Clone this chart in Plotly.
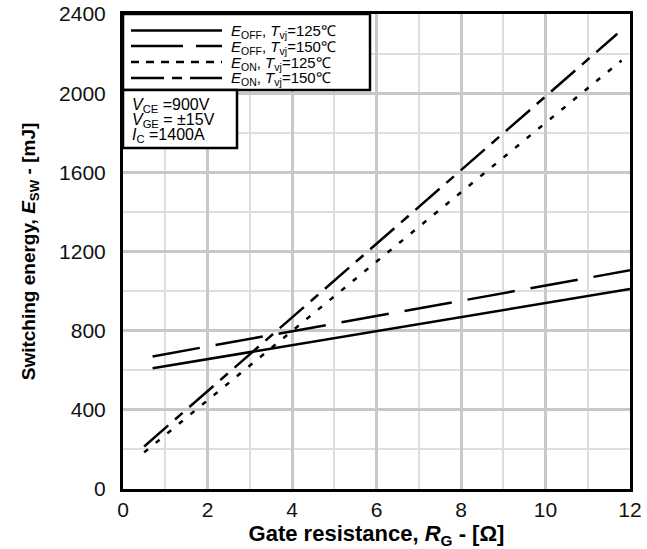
import plotly.graph_objects as go

# Data
eoff125_x = [0.7, 12.0]
eoff125_y = [610, 1010]
eoff150_x = [0.7, 12.0]
eoff150_y = [670, 1105]
eon125_x = [0.5, 11.8]
eon125_y = [185, 2165]
eon150_x = [0.5, 11.7]
eon150_y = [215, 2300]

x_ticks = [0, 2, 4, 6, 8, 10, 12]
y_ticks = [0, 400, 800, 1200, 1600, 2000, 2400]

series_names = [
    "<i>E</i><sub>OFF</sub>, <i>T</i><sub>vj</sub>=125℃",
    "<i>E</i><sub>OFF</sub>, <i>T</i><sub>vj</sub>=150℃",
    "<i>E</i><sub>ON</sub>, <i>T</i><sub>vj</sub>=125℃",
    "<i>E</i><sub>ON</sub>, <i>T</i><sub>vj</sub>=150℃",
]
series_x = [eoff125_x, eoff150_x, eon125_x, eon150_x]
series_y = [eoff125_y, eoff150_y, eon125_y, eon150_y]
plot_dash = ["solid", "48px,16px", "5px,10px", "32px,9px,10px,9px"]
legend_dash = ["solid", "52px,13px", "8px,7px", "33px,8px,10px,8px"]

FONT = "Liberation Sans, Arial"

fig = go.Figure()
for name, xs, ys, dash in zip(series_names, series_x, series_y, plot_dash):
    fig.add_trace(go.Scatter(x=xs, y=ys, mode="lines", name=name,
                             line=dict(color="black", width=2.5, dash=dash),
                             showlegend=False))

W, H = 647, 549
L, R, T, B = 123, 17, 14, 60
pw, ph = W - L - R, H - T - B

def px_x(p):
    return (p - L) / pw

def px_y(p):
    return 1 - (p - T) / ph

shapes = []
annotations = []
shapes.append(dict(type="rect", xref="paper", yref="paper", x0=0, x1=px_x(370), y0=px_y(90), y1=1,
                   line=dict(color="black", width=2.5), fillcolor="white", layer="above"))
shapes.append(dict(type="rect", xref="paper", yref="paper", x0=0, x1=px_x(237), y0=px_y(148), y1=px_y(90),
                   line=dict(color="black", width=2.5), fillcolor="white", layer="above"))
rows = [30.5, 46, 62, 78]
for ry, d, nm in zip(rows, legend_dash, series_names):
    shapes.append(dict(type="line", xref="paper", yref="paper", x0=px_x(131), x1=px_x(222),
                       y0=px_y(ry), y1=px_y(ry), line=dict(color="black", width=2.5, dash=d), layer="above"))
    annotations.append(dict(xref="paper", yref="paper", x=px_x(229), y=px_y(ry + 1), text=nm,
                            showarrow=False, xanchor="left", yanchor="middle",
                            font=dict(family=FONT, size=15, color="black")))
cond = [
    (104, "<i>V</i><sub>CE</sub> =900V"),
    (119, "<i>V</i><sub>GE</sub> = ±15V"),
    (134, "<i>I</i><sub>C</sub> =1400A"),
]
for ry, t in cond:
    annotations.append(dict(xref="paper", yref="paper", x=px_x(130), y=px_y(ry + 1), text=t,
                            showarrow=False, xanchor="left", yanchor="middle",
                            font=dict(family=FONT, size=16, color="black")))

fig.update_layout(
    width=W, height=H,
    margin=dict(l=L, r=R, t=T, b=B, autoexpand=False),
    paper_bgcolor="white", plot_bgcolor="white",
    font=dict(family=FONT, color="black"),
    shapes=shapes, annotations=annotations,
    showlegend=False,
)
fig.update_xaxes(range=[0, 12], tickvals=x_ticks, ticks="", showgrid=True, automargin=False,
                 gridcolor="#c8c8c8", gridwidth=2.5,
                 minor=dict(dtick=1, showgrid=True, gridcolor="#dedede", gridwidth=1.5),
                 showline=True, linecolor="black", linewidth=3, mirror=True,
                 tickfont=dict(size=21, color="#111"), zeroline=False, ticklabelstandoff=0,
                 title=dict(text="<b>Gate resistance, <i>R</i><sub>G</sub> - [Ω]</b>",
                            font=dict(size=22), standoff=1))
fig.update_yaxes(range=[0, 2400], tickvals=y_ticks, ticks="", showgrid=True, automargin=False,
                 gridcolor="#c8c8c8", gridwidth=2.5,
                 minor=dict(dtick=200, showgrid=True, gridcolor="#dedede", gridwidth=1.5),
                 showline=True, linecolor="black", linewidth=3, mirror=True,
                 tickfont=dict(size=21, color="#111"), zeroline=False, ticklabelstandoff=10,
                 title=dict(text="<b>Switching energy, <i>E</i><sub>SW</sub> - [mJ]</b>",
                            font=dict(size=19), standoff=19))

fig.write_html("out.html", config={"displayModeBar": False},
               post_script="document.body.style.margin='0';document.body.style.overflow='hidden';")
